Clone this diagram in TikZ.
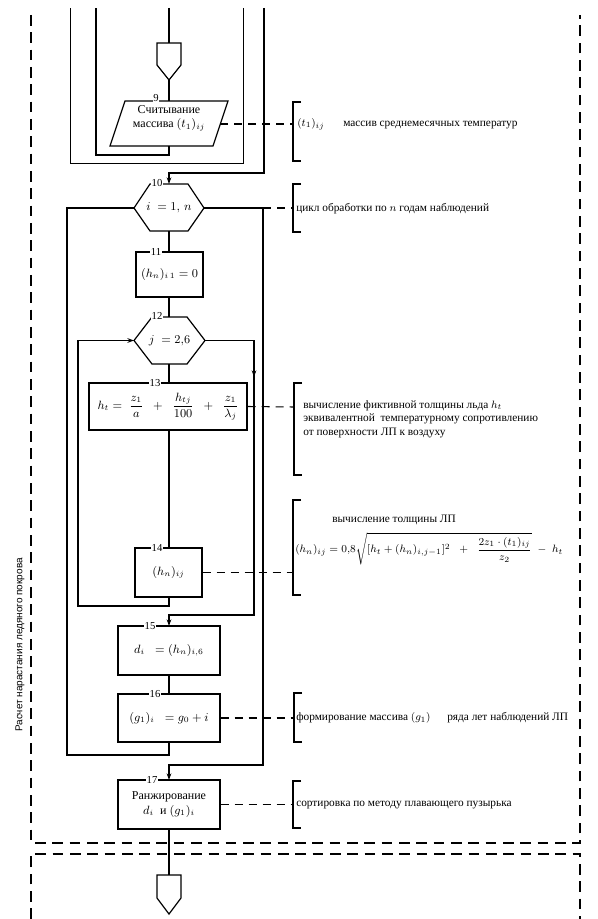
\documentclass[tikz,border=0pt]{standalone}
\usepackage{amsmath}
\usepackage{fontspec}
\setmainfont{Liberation Serif}
\newfontfamily\labelsans{Liberation Sans}
\usetikzlibrary{arrows.meta}
\begin{document}
\begin{tikzpicture}[x=0.75pt,y=-0.75pt,
  ln/.style={line width=0.9pt},
  arr/.style={ln,-{Stealth[length=5pt,width=3.5pt]}},
  dsh/.style={line width=0.8pt,dash pattern=on 6pt off 4.5pt},
  frm/.style={line width=1.1pt,dash pattern=on 8pt off 5pt},
  blk/.style={draw,ln,inner sep=0pt,font=\fontsize{9}{11}\selectfont,align=center},
  txt/.style={inner sep=0pt,font=\fontsize{9}{11}\selectfont,align=center},
  num/.style={fill=white,inner sep=0.6pt,font=\fontsize{8}{8}\selectfont},
  cmt/.style={inner sep=0pt,anchor=west,font=\fontsize{8.5}{10.2}\selectfont}
]
\useasboundingbox (0,0) rectangle (597,919);

% ---------- frame ----------
\draw[frm] (31,15) -- (31,843) -- (580,843) -- (580,15);
\draw[frm] (31,919) -- (31,854) -- (580,854) -- (580,919);
\node[rotate=90,inner sep=0pt,font=\labelsans\fontsize{7.5}{8}\selectfont] (titletext) at (20,645) {Расчет нарастания ледяного покрова};

% ---------- top connector ----------
\coordinate (top0) at (169,8);
\coordinate (p1) at (157,43); \coordinate (p2) at (181,43);
\coordinate (p3) at (181,65); \coordinate (p4) at (169,80); \coordinate (p5) at (157,65);
\draw[ln] (p1) -- (p2) -- (p3) -- (p4) -- (p5) -- cycle;
\draw[ln] (top0) -- (169,43);

% ---------- block 9 (parallelogram) ----------
\coordinate (q1) at (125,101); \coordinate (q2) at (228,101);
\coordinate (q3) at (213,146); \coordinate (q4) at (110,146);
\draw[ln] (q1) -- (q2) -- (q3) -- (q4) -- cycle;
\coordinate (b9n) at (169,101); \coordinate (b9s) at (169,146); \coordinate (b9e) at (220,124);
\node[txt] (b9) at (169,118) {Считывание\\массива $(t_1)_{ij}$};
\node[num] (n9) at (156,98) {9};
\draw[ln] (p4) -- (b9n);

% loops from previous page
\coordinate (la) at (96,8); \coordinate (lb) at (70,8); \coordinate (lc) at (243,8); \coordinate (ld) at (264,8);
\draw[ln] (b9s) -- (169,155) -- (96,155) -- (la);
\draw[ln,line width=0.6pt] (lc) -- (243,163) -- (70,163) -- (lb);

% ---------- block 10 (hexagon) ----------
\coordinate (h10a) at (150,184); \coordinate (h10b) at (188,184);
\coordinate (h10R) at (204,208); \coordinate (h10c) at (188,231);
\coordinate (h10d) at (150,231); \coordinate (h10L) at (134,208);
\draw[ln] (h10a) -- (h10b) -- (h10R) -- (h10c) -- (h10d) -- (h10L) -- cycle;
\coordinate (h10n) at (169,184); \coordinate (h10s) at (169,231);
\node[txt] (h10) at (169,208) {$i\;=1,\,n$};
\draw[arr] (ld) -- (264,173) -- (169,173) -- (h10n);
\node[num] (n10) at (157,183) {10};

% ---------- block 11 ----------
\node[blk,minimum width=67*0.75pt,minimum height=45*0.75pt] (b11) at (169.5,274.5) {$(h_n)_{i\,1} = 0$};
\node[num] (n11) at (156,252) {11};
\draw[ln] (h10s) -- (169,252);

% ---------- block 12 (hexagon) ----------
\coordinate (h12a) at (152,317); \coordinate (h12b) at (187,317);
\coordinate (h12R) at (205,340.5); \coordinate (h12c) at (187,364);
\coordinate (h12d) at (152,364); \coordinate (h12L) at (134,340.5);
\draw[ln] (h12a) -- (h12b) -- (h12R) -- (h12c) -- (h12d) -- (h12L) -- cycle;
\coordinate (h12n) at (169,317); \coordinate (h12s) at (169,364);
\node[txt] (h12) at (169.5,340.5) {$j\;=2{,}6$};
\node[num] (n12) at (157,316) {12};
\draw[ln] (169,297) -- (h12n);

% ---------- block 13 ----------
\node[blk,minimum width=158*0.75pt,minimum height=47*0.75pt] (b13) at (168,406.5)
  {$h_t = \;\dfrac{z_1}{a}\;\;+\;\;\dfrac{h_{tj}}{100}\;\;+\;\;\dfrac{z_1}{\lambda_j}$};
\node[num] (n13) at (155,383) {13};
\draw[ln] (h12s) -- (169,383);

% ---------- block 14 ----------
\node[blk,minimum width=67*0.75pt,minimum height=49*0.75pt] (b14) at (168.5,572.5) {$(h_n)_{ij}$};
\node[num] (n14) at (157,548) {14};
\draw[ln] (169,430) -- (169,548);

% loop 12 return
\draw[arr] (169,597) -- (169,606) -- (78,606) -- (78,340.5) -- (h12L);
% loop 12 exit
\draw[ln] (h12R) -- (254,340.5) -- (254,375);
\draw[ln,-{Stealth[length=5pt,width=3.5pt]}] (254,360) -- (254,377);
\draw[arr] (254,375) -- (254,615) -- (169,615) -- (169,626);

% ---------- block 15 ----------
\node[blk,minimum width=102*0.75pt,minimum height=49*0.75pt] (b15) at (169,650.5) {$d_i\;\;=(h_n)_{i,6}$};
\node[num] (n15) at (150,626) {15};

% ---------- block 16 ----------
\node[blk,minimum width=102*0.75pt,minimum height=48*0.75pt] (b16) at (169,718) {$(g_1)_i\;\;=g_0+i$};
\node[num] (n16) at (155,694) {16};
\draw[ln] (b15.south) -- (b16.north);

% loop 10 return
\draw[ln] (b16.south) -- (169,755) -- (67,755) -- (67,208) -- (h10L);
% loop 10 exit
\draw[arr] (h10R) -- (263,208) -- (263,765) -- (169,765) -- (169,780);

% ---------- block 17 ----------
\node[blk,minimum width=102*0.75pt,minimum height=49*0.75pt] (b17) at (169,804.5) {Ранжирование\\$d_i$\; и $(g_1)_i$};
\node[num] (n17) at (152,780) {17};

% bottom connector
\coordinate (r1) at (157,875); \coordinate (r2) at (181,875);
\coordinate (r3) at (181,898); \coordinate (r4) at (169,914); \coordinate (r5) at (157,898);
\draw[ln] (r1) -- (r2) -- (r3) -- (r4) -- (r5) -- cycle;
\draw[ln] (b17.south) -- (169,875);

% ---------- comments ----------
% c9
\coordinate (c9) at (293,124);
\draw[ln] (301,102) -- (293,102) -- (293,161) -- (301,161);
\draw[dsh] (b9e) -- (c9);
\node[cmt] (t9a) at (297,124) {$(t_1)_{ij}$};
\node[cmt] (t9b) at (343,125) {массив среднемесячных температур};
% c10
\coordinate (c10) at (293,208);
\draw[ln] (301,184) -- (293,184) -- (293,232) -- (301,232);
\draw[dsh] (263,208) -- (c10);
\node[cmt] (t10) at (296,209) {цикл обработки по $n$ годам наблюдений};
% c13
\coordinate (c13) at (294,407);
\draw[ln] (302,383) -- (294,383) -- (294,475) -- (302,475);
\draw[dsh] (b13.east) -- (c13);
\node[cmt,align=left] (t13) at (303,419) {вычисление фиктивной толщины льда $h_t$\\эквивалентной \ температурному сопротивлению\\от поверхности ЛП к воздуху};
% c14
\coordinate (c14) at (293,572.5);
\draw[ln] (301,500) -- (293,500) -- (293,595) -- (301,595);
\draw[dsh] (b14.east) -- (c14);
\node[cmt] (t14a) at (332,520) {вычисление толщины ЛП};
\node[cmt] (t14b) at (295,549)
  {$(h_n)_{ij} = 0{,}8\sqrt{[h_t+(h_n)_{i,j-1}]^2\;\;+\;\;\dfrac{2z_1\cdot(t_1)_{ij}}{z_2}}\;-\;h_t$};
% c16
\coordinate (c16) at (294,718);
\draw[ln] (302,693) -- (294,693) -- (294,742) -- (302,742);
\draw[dsh] (b16.east) -- (c16);
\node[cmt] (t16a) at (296,718) {формирование массива $(g_1)$};
\node[cmt] (t16b) at (447,718) {ряда лет наблюдений ЛП};
% c17
\coordinate (c17) at (293,804.5);
\draw[ln] (301,781) -- (293,781) -- (293,828) -- (301,828);
\draw[dsh] (b17.east) -- (c17);
\node[cmt] (t17) at (296,805) {сортировка по методу плавающего пузырька};
\end{tikzpicture}
\end{document}
